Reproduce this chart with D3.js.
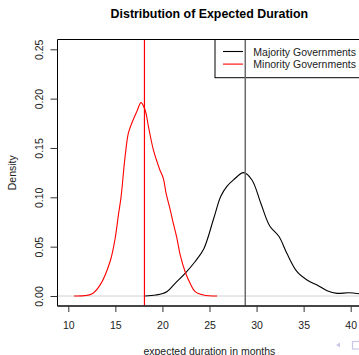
<!DOCTYPE html>
<html>
<head>
<meta charset="utf-8">
<script src="https://cdn.jsdelivr.net/npm/d3@7"></script>
<style>
  body { margin: 0; background: #fff; }
  svg { display: block; font-family: "Liberation Sans", Arial, Helvetica, sans-serif; }
</style>
</head>
<body>
<div id="chart"></div>
<script>
// density estimates (x in months, y = density)
var majorityX = [18.16, 19.3, 20.47, 21.35, 22.41, 23.48, 24.4, 25.43, 26.2, 26.85, 27.55, 28.62, 29.51, 30.45, 31.4, 32.4, 33.23, 34.3, 35.36, 36.43, 37.49, 38.55, 39.79, 41.2];
var majorityY = [0, 0.001, 0.0044, 0.0129, 0.023, 0.035, 0.048, 0.078, 0.101, 0.111, 0.1176, 0.125, 0.1176, 0.094, 0.071, 0.060, 0.043, 0.0246, 0.0162, 0.0111, 0.0054, 0.0027, 0.0033, 0.0018];

var minorityX = [10.6, 12.49, 13.37, 14.44, 14.97, 15.32, 15.6, 16.03, 16.38, 16.74, 17.28, 17.73, 18.16, 18.51, 19.04, 19.68, 20.1, 20.39, 20.81, 21.17, 21.53, 21.88, 22.41, 22.94, 23.48, 24.36, 25.8];
var minorityY = [0, 0.002, 0.011, 0.035, 0.058, 0.082, 0.100, 0.141, 0.165, 0.175, 0.187, 0.196, 0.1885, 0.172, 0.148, 0.129, 0.119, 0.104, 0.088, 0.073, 0.059, 0.042, 0.0246, 0.0129, 0.0044, 0.001, 0];

// means drawn as vertical lines
var majorityMean = 28.8;
var minorityMean = 18.09;

var xTicks = [10, 15, 20, 25, 30, 35, 40];
var yTicks = [0, 0.05, 0.10, 0.15, 0.20, 0.25];
var seriesNames = ["Majority Governments", "Minority Governments"];
var seriesColors = ["#000000", "#ff0000"];

var width = 359, height = 355;
var box = { left: 57.5, right: 361.3, top: 39.5, bottom: 306 };

var svg = d3.select("#chart").append("svg")
  .attr("width", width)
  .attr("height", height);

//Scales
var x = d3.scaleLinear().domain([10, 40]).range([68.3, 350.7]);
var y = d3.scaleLinear().domain([0, 0.25]).range([296, 49.3]);

//Title
svg.append("text")
  .attr("x", (box.left + box.right) / 2)
  .attr("y", 18)
  .attr("text-anchor", "middle")
  .style("font-weight", "bold")
  .style("font-size", "12.4px")
  .text("Distribution of Expected Duration");

//Zero line
svg.append("line")
  .attr("x1", box.left).attr("x2", box.right)
  .attr("y1", y(0)).attr("y2", y(0))
  .attr("stroke", "#d0d0d0")
  .attr("stroke-width", 1);

//Curves
var line = d3.line()
  .x(function(d) { return x(d[0]); })
  .y(function(d) { return y(d[1]); })
  .curve(d3.curveCatmullRom.alpha(0.5));

var curves = [d3.zip(majorityX, majorityY), d3.zip(minorityX, minorityY)];

svg.selectAll(".curve")
  .data(curves)
  .enter().append("path")
  .attr("class", "curve")
  .attr("fill", "none")
  .attr("stroke", function(d, i) { return seriesColors[i]; })
  .attr("stroke-width", 1.1)
  .attr("d", line);

//Legend
var legend = svg.append("g");
legend.append("rect")
  .attr("x", 215)
  .attr("y", box.top)
  .attr("width", box.right - 215)
  .attr("height", 77.7 - box.top)
  .attr("fill", "#fff")
  .attr("stroke", "#000")
  .attr("stroke-width", 1);

var item = legend.selectAll(".item")
  .data(seriesNames)
  .enter().append("g")
  .attr("class", "item")
  .attr("transform", function(d, i) { return "translate(0," + i * 12.6 + ")"; });

item.append("line")
  .attr("x1", 223).attr("x2", 243)
  .attr("y1", 51.5).attr("y2", 51.5)
  .attr("stroke", function(d, i) { return seriesColors[i]; })
  .attr("stroke-width", 1.1);

item.append("text")
  .attr("x", 253.3)
  .attr("y", 55.7)
  .style("font-size", "10.5px")
  .style("fill", "#222")
  .text(function(d) { return d; });

//Mean lines
svg.append("line")
  .attr("x1", x(minorityMean)).attr("x2", x(minorityMean))
  .attr("y1", box.top).attr("y2", box.bottom)
  .attr("stroke", "#ff0000")
  .attr("stroke-width", 1.2);

svg.append("line")
  .attr("x1", x(majorityMean)).attr("x2", x(majorityMean))
  .attr("y1", box.top).attr("y2", box.bottom)
  .attr("stroke", "#6a6a6a")
  .attr("stroke-width", 1.5);

//Box
svg.append("path")
  .attr("d", "M" + box.right + "," + box.top + "H" + box.left + "V" + box.bottom + "H" + box.right)
  .attr("fill", "none")
  .attr("stroke", "#000")
  .attr("stroke-width", 1);
svg.append("line")
  .attr("x1", box.left).attr("x2", box.right)
  .attr("y1", box.bottom).attr("y2", box.bottom)
  .attr("stroke", "#333")
  .attr("stroke-width", 1.6);

//X axis
var xAxis = svg.append("g")
  .attr("transform", "translate(0," + box.bottom + ")")
  .call(d3.axisBottom(x).tickValues(xTicks).tickSize(6).tickFormat(d3.format("d")));
xAxis.select(".domain").remove();
xAxis.selectAll("line").attr("stroke", "#333");
xAxis.selectAll("text")
  .attr("y", 23.3)
  .attr("dy", 0)
  .style("font-size", "10.5px")
  .style("font-family", "Liberation Sans, Arial, sans-serif")
  .style("fill", "#222");

//Y axis
var yAxis = svg.append("g")
  .attr("transform", "translate(" + box.left + ",0)")
  .call(d3.axisLeft(y).tickValues(yTicks).tickSize(7).tickFormat(d3.format(".2f")));
yAxis.select(".domain").remove();
yAxis.selectAll("line").attr("stroke", "#333");
yAxis.selectAll("text")
  .attr("x", 0)
  .attr("dy", 0)
  .attr("transform", "translate(" + (43.3 - box.left) + ",0) rotate(-90)")
  .style("text-anchor", "middle")
  .style("font-size", "10.5px")
  .style("font-family", "Liberation Sans, Arial, sans-serif")
  .style("fill", "#222");

//Axis titles
svg.append("text")
  .attr("transform", "translate(16," + (box.top + box.bottom) / 2 + ") rotate(-90)")
  .attr("text-anchor", "middle")
  .style("font-size", "10.5px")
  .style("fill", "#222")
  .text("Density");

svg.append("text")
  .attr("x", (box.left + box.right) / 2)
  .attr("y", 355)
  .attr("text-anchor", "middle")
  .style("font-size", "10.5px")
  .style("fill", "#222")
  .text("expected duration in months");

//Slide navigation symbols in the corner
svg.append("path")
  .attr("d", "M336,345 L340,342.5 L340,347.5 Z")
  .attr("fill", "#c8c8e6");
svg.append("rect")
  .attr("x", 352.5).attr("y", 341.5)
  .attr("width", 8).attr("height", 7.5)
  .attr("fill", "none")
  .attr("stroke", "#c8c8e6")
  .attr("stroke-width", 1.2);
</script>
</body>
</html>
